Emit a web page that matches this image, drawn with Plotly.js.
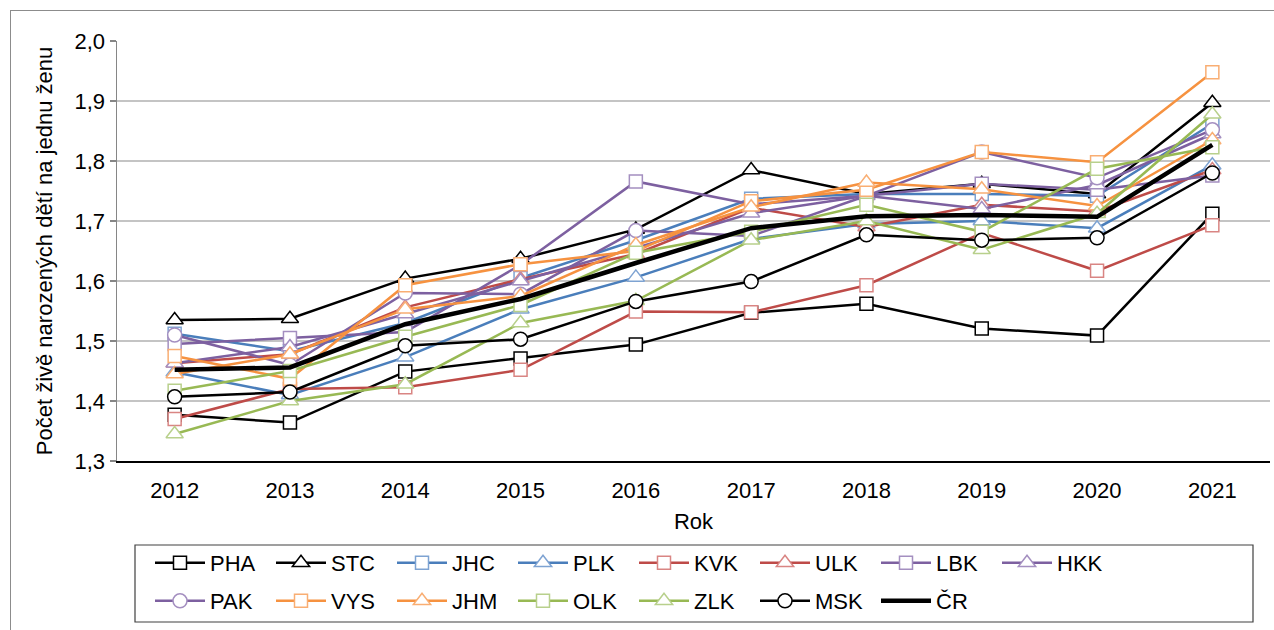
<!DOCTYPE html>
<html>
<head>
<meta charset="utf-8">
<script src="https://cdn.plot.ly/plotly-3.0.1.min.js"></script>
<style>
  html, body { margin: 0; padding: 0; background: #ffffff; }
  #chart { width: 1274px; height: 630px; }
  #frame { position: absolute; left: 10px; top: 10px; width: 1300px; height: 700px; border: 1px solid #8c8c8c; pointer-events: none; }
</style>
</head>
<body>
<div id="chart"></div>
<div id="frame"></div>
<script>
const years = ['2012','2013','2014','2015','2016','2017','2018','2019','2020','2021'];

const PHA = [1.377,1.364,1.449,1.471,1.494,1.547,1.562,1.521,1.509,1.712];
const STC = [1.535,1.537,1.604,1.637,1.686,1.785,1.745,1.762,1.745,1.897];
const JHC = [1.512,1.483,1.530,1.605,1.668,1.737,1.745,1.745,1.742,1.862];
const PLK = [1.448,1.410,1.473,1.553,1.606,1.670,1.695,1.700,1.688,1.793];
const KVK = [1.370,1.420,1.423,1.452,1.549,1.548,1.593,1.680,1.617,1.693];
const ULK = [1.463,1.478,1.556,1.603,1.645,1.722,1.690,1.727,1.716,1.785];
const LBK = [1.495,1.505,1.515,1.627,1.766,1.728,1.742,1.762,1.752,1.776];
const HKK = [1.463,1.490,1.545,1.600,1.655,1.713,1.742,1.720,1.760,1.845];
const PAK = [1.510,1.460,1.580,1.578,1.684,1.675,1.742,1.815,1.772,1.852];
const VYS = [1.475,1.437,1.593,1.628,1.650,1.733,1.752,1.815,1.798,1.948];
const JHM = [1.445,1.478,1.553,1.575,1.660,1.723,1.764,1.753,1.725,1.835];
const OLK = [1.417,1.450,1.507,1.560,1.647,1.682,1.727,1.682,1.787,1.823];
const ZLK = [1.345,1.400,1.428,1.530,1.567,1.668,1.700,1.652,1.712,1.878];
const MSK = [1.407,1.415,1.492,1.503,1.566,1.599,1.677,1.668,1.672,1.780];
const CR  = [1.452,1.456,1.528,1.570,1.630,1.688,1.708,1.710,1.707,1.827];

const seriesNames = ['PHA','STC','JHC','PLK','KVK','ULK','LBK','HKK','PAK','VYS','JHM','OLK','ZLK','MSK','ČR'];
const seriesData = [PHA,STC,JHC,PLK,KVK,ULK,LBK,HKK,PAK,VYS,JHM,OLK,ZLK,MSK,CR];

const palette = {
  black:  {line: '#000000', mk: '#000000'},
  blue:   {line: '#4A7EBB', mk: '#7EA3D2'},
  red:    {line: '#BE4B48', mk: '#D98583'},
  purple: {line: '#7D60A0', mk: '#A48FC0'},
  orange: {line: '#F69240', mk: '#F9AE73'},
  green:  {line: '#98B954', mk: '#B8D08C'}
};
const styles = [
  ['black','square'], ['black','triangle-up'], ['blue','square'], ['blue','triangle-up'],
  ['red','square'], ['red','triangle-up'], ['purple','square'], ['purple','triangle-up'],
  ['purple','circle'], ['orange','square'], ['orange','triangle-up'], ['green','square'],
  ['green','triangle-up'], ['black','circle'], ['black', null]
];

const traces = seriesNames.map((name, i) => {
  const [col, sym] = styles[i];
  const c = palette[col];
  const t = {
    type: 'scatter', x: years, y: seriesData[i], name: name,
    mode: sym ? 'lines+markers' : 'lines',
    line: {color: c.line, width: sym ? 2.5 : 4.5},
    legend: i < 8 ? 'legend' : 'legend2',
    hoverinfo: 'x+y+name'
  };
  if (sym) {
    t.marker = {
      symbol: sym,
      size: sym === 'triangle-up' ? 15 : (sym === 'circle' ? 14 : 13),
      color: '#ffffff',
      line: {color: c.mk, width: 1.5}
    };
  }
  return t;
});

const font = {family: 'Liberation Sans, Arial, sans-serif', size: 22, color: '#000000'};

const legendBase = {
  orientation: 'h',
  x: (150 - 117) / 1153, xanchor: 'left',
  yref: 'container', yanchor: 'top',
  entrywidth: 56, entrywidthmode: 'pixels',
  itemwidth: 50,
  bgcolor: 'rgba(0,0,0,0)',
  borderwidth: 0,
  font: font,
  tracegroupgap: 0
};

const layout = {
  width: 1274, height: 630,
  margin: {l: 117, r: 4, t: 41, b: 169},
  paper_bgcolor: 'rgba(0,0,0,0)',
  plot_bgcolor: '#ffffff',
  separators: ', ',
  font: font,
  showlegend: true,
  xaxis: {
    type: 'category',
    range: [-0.5, 9.5],
    showgrid: false,
    showline: true, linecolor: '#000000', linewidth: 1.5,
    ticks: '', ticklabelstandoff: 9,
    tickfont: font,
    title: {text: 'Rok', font: font, standoff: 11},
    zeroline: false, fixedrange: true
  },
  yaxis: {
    range: [1.3, 2.0],
    dtick: 0.1, tick0: 1.3,
    tickformat: '.1f',
    showgrid: true, gridcolor: '#C4C4C4', gridwidth: 1.5,
    showline: true, linecolor: '#868686', linewidth: 1.5,
    ticks: 'outside', ticklen: 6, tickcolor: '#868686', tickwidth: 1.5,
    tickfont: font,
    title: {text: 'Počet živě narozených dětí na jednu ženu', font: font, standoff: 16},
    zeroline: false, fixedrange: true
  },
  legend: Object.assign({}, legendBase, {y: (630 - 542) / 630}),
  legend2: Object.assign({}, legendBase, {y: (630 - 580) / 630}),
  shapes: [{
    type: 'rect', xref: 'paper', yref: 'paper',
    x0: (135 - 117) / 1153, x1: (1253 - 117) / 1153,
    y0: -(622 - 461) / 420, y1: -(545 - 461) / 420,
    line: {color: '#404040', width: 1.2},
    fillcolor: 'rgba(0,0,0,0)'
  }]
};

Plotly.newPlot('chart', traces, layout, {displayModeBar: false, staticPlot: true});
</script>
</body>
</html>
